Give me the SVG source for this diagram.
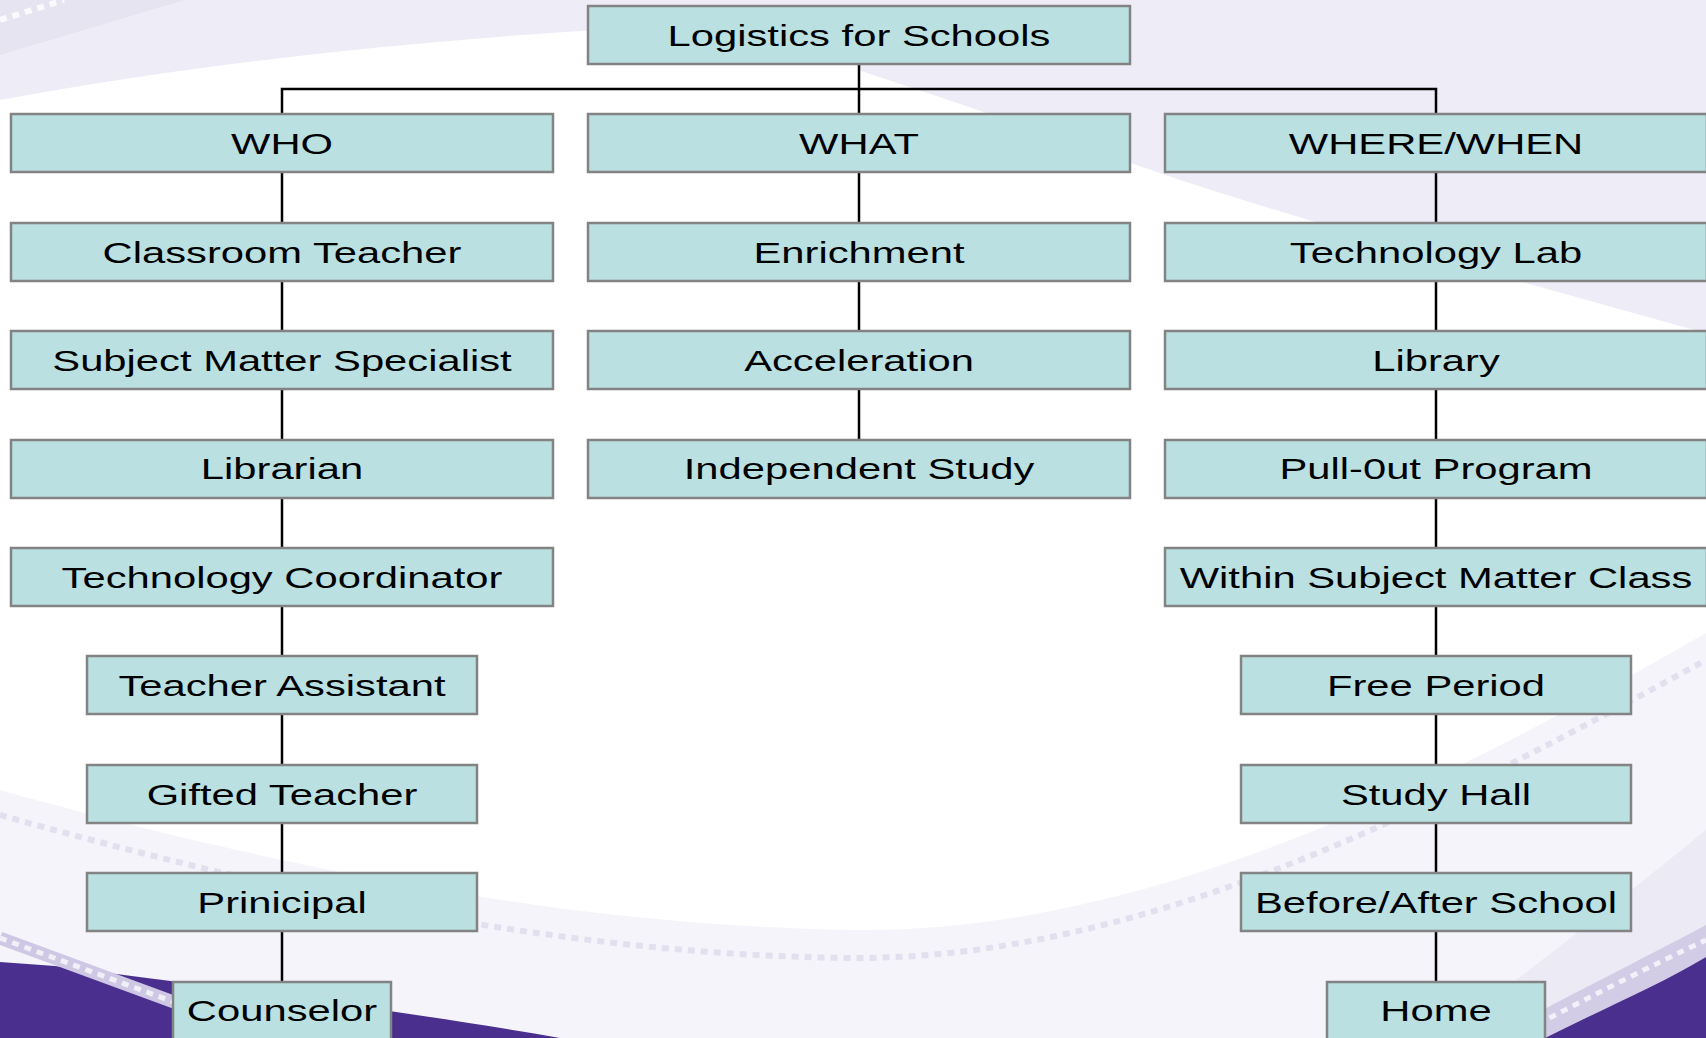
<svg xmlns="http://www.w3.org/2000/svg" width="1706" height="1038" viewBox="0 0 1706 1038">
  <style>
    .box { fill: #BAE0E2; stroke: #838383; stroke-width: 2.5; }
    .t { font-family: "Liberation Sans", Arial, sans-serif; font-size: 29px; fill: #000000; text-anchor: middle; }
    .c { fill: none; stroke: #000000; stroke-width: 2.5; }
    .dash { fill: none; stroke-dasharray: 7 6; }
  </style>
  <g id="background">
    <rect x="0" y="0" width="1706" height="1038" fill="#FFFFFF"/>
    <path d="M0,0 H1706 V333 C1550,290 1350,235 1180,180 C1050,135 950,100 858,70 L880,18 C600,25 300,45 0,100 Z" fill="#EEEDF7"/>
    <path d="M0,0 H185 L0,55 Z" fill="#E6E4F1"/>
    <path class="dash" d="M0,20 L64,0" stroke="#FFFFFF" stroke-width="6" stroke-opacity="0.8"/>
    <path d="M0,790 C250,860 550,925 850,930 C1150,935 1450,780 1706,633 V1038 H0 Z" fill="#F5F4FA"/>
    <path class="dash" d="M0,815 C250,885 550,955 850,958 C1150,960 1450,800 1706,660" stroke="#E2E0EE" stroke-width="6"/>
    <path d="M1440,1038 C1530,970 1620,900 1706,830 V925 C1640,960 1560,1000 1490,1038 Z" fill="#ECEAF5"/>
    <path d="M1490,1038 C1560,1000 1640,960 1706,925 V957 C1660,985 1600,1010 1545,1038 Z" fill="#D2CCE6"/>
    <path class="dash" d="M1515,1036 C1580,1002 1650,966 1706,940" stroke="#FFFFFF" stroke-width="5" stroke-opacity="0.7"/>
    <path d="M1545,1038 C1600,1010 1660,985 1706,957 V1038 Z" fill="#4B2F8F"/>
    <path d="M0,962 L55,966 C200,985 400,1010 560,1038 H0 Z" fill="#4B2F8F"/>
    <path d="M0,938 L190,1008" stroke="#CFC8E4" stroke-width="13" fill="none"/>
    <path class="dash" d="M0,938 L190,1008" stroke="#FFFFFF" stroke-width="5" stroke-opacity="0.7"/>
  </g>
  <g id="connectors">
    <path class="c" d="M859,64 V114"/>
    <path class="c" d="M282,114 V89 H1436 V114"/>
    <path class="c" d="M282,172 V223 M282,281 V331 M282,389 V440 M282,498 V548 M282,606 V656 M282,714 V765 M282,823 V873 M282,931 V982"/>
    <path class="c" d="M859,172 V223 M859,281 V331 M859,389 V440"/>
    <path class="c" d="M1436,172 V223 M1436,281 V331 M1436,389 V440 M1436,498 V548 M1436,606 V656 M1436,714 V765 M1436,823 V873 M1436,931 V982"/>
  </g>
  <g id="n-root"><rect class="box" x="588" y="6" width="542" height="58"/><text class="t" transform="translate(859,45.5) scale(1.44,1)">Logistics for Schools</text></g>
  <g id="n-who"><rect class="box" x="11" y="114" width="542" height="58"/><text class="t" transform="translate(282,154) scale(1.44,1)">WHO</text></g>
  <g id="n-what"><rect class="box" x="588" y="114" width="542" height="58"/><text class="t" transform="translate(859,154) scale(1.44,1)">WHAT</text></g>
  <g id="n-wherewhen"><rect class="box" x="1165" y="114" width="542" height="58"/><text class="t" transform="translate(1436,154) scale(1.44,1)">WHERE/WHEN</text></g>
  <g id="n-classroom-teacher"><rect class="box" x="11" y="223" width="542" height="58"/><text class="t" transform="translate(282,262.5) scale(1.44,1)">Classroom Teacher</text></g>
  <g id="n-enrichment"><rect class="box" x="588" y="223" width="542" height="58"/><text class="t" transform="translate(859,262.5) scale(1.44,1)">Enrichment</text></g>
  <g id="n-technology-lab"><rect class="box" x="1165" y="223" width="542" height="58"/><text class="t" transform="translate(1436,262.5) scale(1.44,1)">Technology Lab</text></g>
  <g id="n-subject-matter-specialist"><rect class="box" x="11" y="331" width="542" height="58"/><text class="t" transform="translate(282,370.5) scale(1.44,1)">Subject Matter Specialist</text></g>
  <g id="n-acceleration"><rect class="box" x="588" y="331" width="542" height="58"/><text class="t" transform="translate(859,370.5) scale(1.44,1)">Acceleration</text></g>
  <g id="n-library"><rect class="box" x="1165" y="331" width="542" height="58"/><text class="t" transform="translate(1436,370.5) scale(1.44,1)">Library</text></g>
  <g id="n-librarian"><rect class="box" x="11" y="440" width="542" height="58"/><text class="t" transform="translate(282,479) scale(1.44,1)">Librarian</text></g>
  <g id="n-independent-study"><rect class="box" x="588" y="440" width="542" height="58"/><text class="t" transform="translate(859,479) scale(1.44,1)">Independent Study</text></g>
  <g id="n-pull-out-program"><rect class="box" x="1165" y="440" width="542" height="58"/><text class="t" transform="translate(1436,479) scale(1.44,1)">Pull-0ut Program</text></g>
  <g id="n-technology-coordinator"><rect class="box" x="11" y="548" width="542" height="58"/><text class="t" transform="translate(282,587.5) scale(1.44,1)">Technology Coordinator</text></g>
  <g id="n-within-subject-matter-class"><rect class="box" x="1165" y="548" width="542" height="58"/><text class="t" transform="translate(1436,587.5) scale(1.44,1)">Within Subject Matter Class</text></g>
  <g id="n-teacher-assistant"><rect class="box" x="87" y="656" width="390" height="58"/><text class="t" transform="translate(282,696) scale(1.44,1)">Teacher Assistant</text></g>
  <g id="n-free-period"><rect class="box" x="1241" y="656" width="390" height="58"/><text class="t" transform="translate(1436,696) scale(1.44,1)">Free Period</text></g>
  <g id="n-gifted-teacher"><rect class="box" x="87" y="765" width="390" height="58"/><text class="t" transform="translate(282,804.5) scale(1.44,1)">Gifted Teacher</text></g>
  <g id="n-study-hall"><rect class="box" x="1241" y="765" width="390" height="58"/><text class="t" transform="translate(1436,804.5) scale(1.44,1)">Study Hall</text></g>
  <g id="n-prinicipal"><rect class="box" x="87" y="873" width="390" height="58"/><text class="t" transform="translate(282,913) scale(1.44,1)">Prinicipal</text></g>
  <g id="n-before-after-school"><rect class="box" x="1241" y="873" width="390" height="58"/><text class="t" transform="translate(1436,913) scale(1.44,1)">Before/After School</text></g>
  <g id="n-counselor"><rect class="box" x="173" y="982" width="218" height="58"/><text class="t" transform="translate(282,1021) scale(1.44,1)">Counselor</text></g>
  <g id="n-home"><rect class="box" x="1327" y="982" width="218" height="58"/><text class="t" transform="translate(1436,1021) scale(1.44,1)">Home</text></g>
</svg>
